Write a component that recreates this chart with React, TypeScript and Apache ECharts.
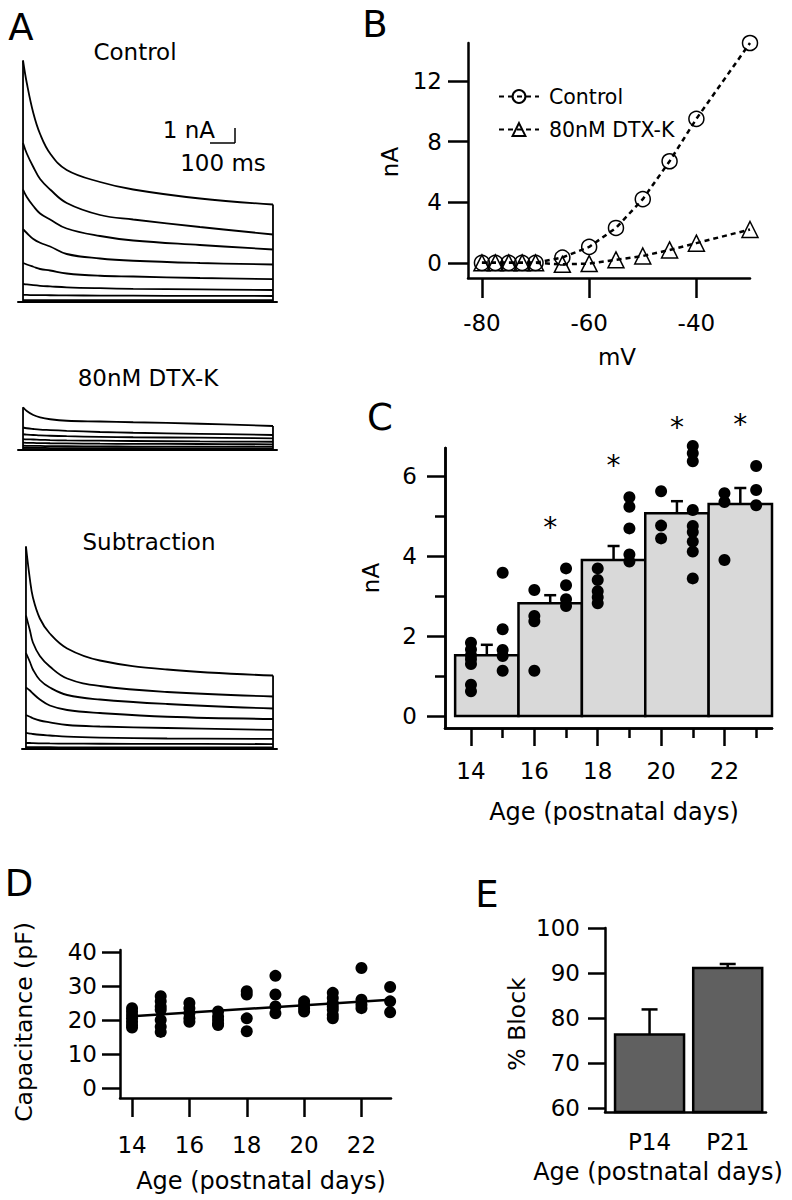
import React, { useEffect, useRef } from 'react';
import * as echarts from 'echarts';

const FONT = 'DejaVu Sans';

// ---------- Panel A: current traces (nA vs ms) ----------
const ctrlTimes = [0, 4, 19, 45, 72, 112, 178, 311, 443, 709, 1000];
const ctrlTrace1 = [0, 16.1, 14.6, 12.6, 11.2, 9.9, 8.8, 8.0, 7.5, 6.9, 6.5];
const ctrlTrace2 = [0, 10.6, 9.9, 9.0, 8.2, 7.5, 6.6, 5.8, 5.5, 5.0, 4.5];
const ctrlTrace3 = [0, 7.5, 7.0, 6.4, 5.9, 5.5, 4.9, 4.4, 4.1, 3.8, 3.5];
const ctrlTrace4 = [0, 4.85, 4.6, 4.2, 3.95, 3.7, 3.2, 2.9, 2.75, 2.6, 2.5];
const ctrlTrace5 = [0, 2.6, 2.5, 2.35, 2.2, 2.1, 1.9, 1.75, 1.7, 1.6, 1.53];
const ctrlTrace6 = [0, 1.2, 1.17, 1.12, 1.08, 1.04, 0.98, 0.92, 0.88, 0.84, 0.8];
const ctrlTrace7 = [0, 0.47, 0.47, 0.46, 0.46, 0.45, 0.44, 0.43, 0.42, 0.41, 0.4];
const ctrlTrace8 = [0, 0.13, 0.13, 0.13, 0.13, 0.13, 0.13, 0.13, 0.13, 0.13, 0.13];

const dtxTimes = [0, 4, 19, 45, 72, 112, 178, 311, 443, 709, 1000];
const dtxTrace1 = [0, 2.85, 2.6, 2.33, 2.17, 2.05, 1.95, 1.9, 1.85, 1.75, 1.6];
const dtxTrace2 = [0, 1.5, 1.45, 1.4, 1.36, 1.33, 1.28, 1.2, 1.15, 1.08, 1.0];
const dtxTrace3 = [0, 1.05, 1.02, 1.0, 0.97, 0.95, 0.92, 0.88, 0.85, 0.82, 0.78];
const dtxTrace4 = [0, 0.73, 0.71, 0.7, 0.68, 0.66, 0.64, 0.62, 0.6, 0.57, 0.55];
const dtxTrace5 = [0, 0.49, 0.48, 0.47, 0.46, 0.45, 0.44, 0.42, 0.41, 0.4, 0.38];
const dtxTrace6 = [0, 0.29, 0.28, 0.28, 0.27, 0.26, 0.25, 0.24, 0.23, 0.23, 0.22];
const dtxTrace7 = [0, 0.15, 0.15, 0.14, 0.14, 0.13, 0.13, 0.12, 0.12, 0.11, 0.11];
const dtxTrace8 = [0, 0.05, 0.05, 0.05, 0.05, 0.05, 0.05, 0.05, 0.05, 0.05, 0.05];

const subTimes = [0, 4, 20, 32, 60, 100, 170, 302, 573, 1000];
const subTrace1 = [0, 13.5, 11.3, 10.1, 8.7, 7.7, 6.7, 5.9, 5.3, 4.9];
const subTrace2 = [0, 8.9, 7.9, 7.1, 6.2, 5.5, 4.7, 4.2, 3.8, 3.5];
const subTrace3 = [0, 6.4, 5.8, 5.3, 4.6, 4.1, 3.6, 3.3, 3.0, 2.7];
const subTrace4 = [0, 4.1, 3.9, 3.7, 3.3, 2.9, 2.6, 2.4, 2.15, 2.0];
const subTrace5 = [0, 2.27, 2.15, 2.05, 1.9, 1.78, 1.6, 1.5, 1.4, 1.27];
const subTrace6 = [0, 1.07, 1.03, 1.0, 0.95, 0.9, 0.82, 0.76, 0.7, 0.67];
const subTrace7 = [0, 0.4, 0.4, 0.39, 0.38, 0.37, 0.36, 0.35, 0.34, 0.33];
const subTrace8 = [0, 0.13, 0.13, 0.13, 0.12, 0.12, 0.11, 0.11, 0.1, 0.1];

// ---------- Panel B: I-V ----------
const bVoltages = [-80, -77.5, -75, -72.5, -70, -65, -60, -55, -50, -45, -40, -30];
const bControl = [0, 0, 0, 0, 0, 0.35, 1.05, 2.3, 4.2, 6.7, 9.5, 14.5];
const bDtx = [0, 0, 0, 0, 0, -0.1, -0.05, 0.2, 0.45, 0.85, 1.3, 2.2];
const bXTicks = [-80, -60, -40];
const bYTicks = [0, 4, 8, 12];

// ---------- Panel C: current vs age ----------
const cBinCenters = [14.5, 16.5, 18.5, 20.5, 22.5];
const cBinWidth = 2;
const cMeans = [1.52, 2.82, 3.9, 5.07, 5.3];
const cSem = [0.26, 0.2, 0.35, 0.3, 0.4];
const cDays = [14, 15, 16, 17, 18, 19, 20, 21, 22, 23];
const cPoints = [
  [1.83, 1.66, 1.52, 1.42, 1.3, 0.78, 0.62],
  [3.58, 2.17, 1.65, 1.5, 1.13],
  [3.15, 2.5, 2.37, 1.13],
  [3.69, 3.27, 2.92, 2.75],
  [3.69, 3.4, 3.12, 2.97, 2.82],
  [5.47, 5.23, 4.69, 4.04, 3.86],
  [5.62, 4.76, 4.44],
  [6.75, 6.57, 6.37, 5.15, 4.75, 4.6, 4.36, 4.11, 3.44],
  [5.57, 5.35, 3.9],
  [6.25, 5.65, 5.27],
];
const cStarBins = [16.5, 18.5, 20.5, 22.5];
const cStarLevels = [4.9, 6.45, 7.4, 7.47];
const cXMajor = [14, 16, 18, 20, 22];
const cXMinor = [15, 17, 19, 21, 23];
const cYMajor = [0, 2, 4, 6];
const cYMinor = [1, 3, 5];

// ---------- Panel D: capacitance ----------
const dDays = [14, 15, 16, 17, 18, 19, 20, 21, 22, 23];
const dPoints = [
  [23.5, 22.5, 21.5, 20.5, 19.5, 18.5, 17.8],
  [27, 25.5, 24, 23, 20, 18, 16.5],
  [25, 23.5, 22, 20.5, 19.5],
  [22.5, 21, 20, 19, 18.5],
  [28.5, 27.5, 20.5, 16.7],
  [33, 27.5, 24, 22],
  [25.5, 24.5, 23.5, 22.5],
  [28, 26.5, 25, 24, 23, 21.5, 20.5],
  [35.3, 26, 24.5, 23.5],
  [29.7, 25.5, 22.3],
];
const dFitDays = [14, 23];
const dFitValues = [21.1, 26.0];
const dXTicks = [14, 16, 18, 20, 22];
const dYTicks = [0, 10, 20, 30, 40];

// ---------- Panel E: % block ----------
const eCats = ['P14', 'P21'];
const eMeans = [76.3, 91.1];
const eErr = [5.6, 0.9];
const eYTicks = [60, 70, 80, 90, 100];

const BLACK = '#000';
const axisLineStyle = { color: BLACK, width: 2.5 };
const tickText = (size = 23) => ({ color: BLACK, fontSize: size, fontFamily: FONT });

function pairs(xs: number[], ys: number[]) {
  return xs.map((x, i) => [x, ys[i]]);
}

// Each trace: vertical step-on edge, smooth decay, vertical step-off edge.
function traceSeries(times: number[], traces: number[][], axisIndex: number) {
  const base = { type: 'line', xAxisIndex: axisIndex, yAxisIndex: axisIndex, symbol: 'none', silent: true };
  const ls = { color: BLACK, width: 1.8 };
  const out: any[] = traces.map((tr) => ({
    ...base,
    data: pairs(times, tr).slice(1),
    smooth: 0.4,
    lineStyle: ls,
  }));
  const tOn = times[1];
  const tOff = times[times.length - 1];
  const first = traces[0];
  out.push({ ...base, data: [[tOn, first[0]], [tOn, first[1]]], lineStyle: ls });
  out.push({ ...base, data: [[tOff, first[0]], [tOff, first[first.length - 1]]], lineStyle: ls });
  return out;
}

function hiddenAxis(gridIndex: number, min: number, max: number, showLine: boolean) {
  return {
    type: 'value',
    gridIndex,
    min,
    max,
    axisLine: { show: showLine, onZero: false, lineStyle: { color: BLACK, width: 2 } },
    axisTick: { show: false },
    axisLabel: { show: false },
    splitLine: { show: false },
  };
}

function tickAxis(
  gridIndex: number,
  position: string,
  min: number,
  max: number,
  ticks: number[],
  tickLen: number,
  labelMargin: number | null,
  fontSize = 23
) {
  return {
    type: 'value',
    gridIndex,
    position,
    min,
    max,
    axisLine: { show: true, onZero: false, lineStyle: axisLineStyle },
    axisTick: { show: true, customValues: ticks, length: tickLen, lineStyle: axisLineStyle },
    axisLabel:
      labelMargin === null
        ? { show: false }
        : { show: true, customValues: ticks, margin: labelMargin, ...tickText(fontSize) },
    splitLine: { show: false },
  };
}

function txt(text: string, x: number, y: number, size: number, opts: any = {}) {
  return {
    type: 'text',
    x,
    y,
    rotation: opts.rotation || 0,
    style: {
      text,
      fill: BLACK,
      fontSize: size,
      fontFamily: FONT,
      align: opts.align || 'center',
      verticalAlign: 'middle',
    },
  };
}

function errorBarRenderer(capHalf: number) {
  return (params: any, api: any) => {
    const x = api.value(0);
    const m = api.value(1);
    const e = api.value(2);
    const p0 = api.coord([x, m]);
    const p1 = api.coord([x, m + e]);
    const style = { stroke: BLACK, lineWidth: 2.5 };
    return {
      type: 'group',
      children: [
        { type: 'line', shape: { x1: p0[0], y1: p0[1], x2: p1[0], y2: p1[1] }, style },
        { type: 'line', shape: { x1: p1[0] - capHalf, y1: p1[1], x2: p1[0] + capHalf, y2: p1[1] }, style },
      ],
    };
  };
}

export default function App() {
  const ref = useRef<HTMLDivElement>(null);

  useEffect(() => {
    if (!ref.current) return;
    const chart = echarts.init(ref.current, undefined, { renderer: 'svg' });

    const cScatter: number[][] = [];
    cDays.forEach((d, i) => cPoints[i].forEach((v) => cScatter.push([d, v])));
    const dScatter: number[][] = [];
    dDays.forEach((d, i) => dPoints[i].forEach((v) => dScatter.push([d, v])));

    const option: any = {
      animation: false,
      backgroundColor: '#fff',
      textStyle: { fontFamily: FONT },
      grid: [
        { left: 18, top: 59, width: 259, height: 243, outerBoundsMode: 'none' },
        { left: 18, top: 405, width: 259, height: 45, outerBoundsMode: 'none' },
        { left: 22, top: 543.5, width: 255, height: 205.5, outerBoundsMode: 'none' },
        { left: 468, top: 43, width: 282, height: 235, outerBoundsMode: 'none' },
        { left: 445, top: 448, width: 327, height: 280, outerBoundsMode: 'none' },
        { left: 120, top: 950, width: 271, height: 148, outerBoundsMode: 'none' },
        { left: 605, top: 928, width: 161, height: 184, outerBoundsMode: 'none' },
      ],
      xAxis: [
        { ...hiddenAxis(0, -16, 1016, true), position: 'bottom' },
        { ...hiddenAxis(1, -16, 1016, true), position: 'bottom' },
        { ...hiddenAxis(2, -12, 1016, true), position: 'bottom' },
        tickAxis(3, 'bottom', -82.6, -30, bXTicks, 20, 33),
        tickAxis(4, 'bottom', 13.18, 23.5, cXMajor, 18, 31),
        tickAxis(4, 'bottom', 13.18, 23.5, cXMinor, 10, null),
        tickAxis(5, 'bottom', 13.58, 23.03, dXTicks, 19, 35),
        {
          type: 'value',
          gridIndex: 6,
          position: 'bottom',
          min: -0.57,
          max: 1.49,
          axisLine: { show: true, onZero: false, lineStyle: axisLineStyle },
          axisTick: { show: false },
          axisLabel: {
            show: true,
            customValues: [0, 1],
            margin: 18,
            formatter: (v: number) => eCats[Math.round(v)],
            ...tickText(23),
          },
          splitLine: { show: false },
        },
      ],
      yAxis: [
        { ...hiddenAxis(0, 0, 16.2, false), show: false },
        { ...hiddenAxis(1, 0, 3, false), show: false },
        { ...hiddenAxis(2, 0, 13.7, false), show: false },
        tickAxis(3, 'left', -1, 14.5, bYTicks, 20, 26),
        tickAxis(4, 'left', -0.3, 6.7, cYMajor, 18, 28),
        tickAxis(4, 'left', -0.3, 6.7, cYMinor, 10, null),
        tickAxis(5, 'left', -2.94, 40.6, dYTicks, 18, 23),
        tickAxis(6, 'left', 59.1, 100, eYTicks, 17, 25),
      ],
      legend: {
        data: ['Control', '80nM DTX-K'],
        orient: 'vertical',
        left: 493,
        top: 81,
        itemWidth: 40,
        itemHeight: 16,
        itemGap: 12,
        textStyle: { color: BLACK, fontSize: 20.5, fontFamily: FONT, padding: [0, 0, 0, 5] },
        selectedMode: false,
      },
      series: [
        ...traceSeries(ctrlTimes, [ctrlTrace1, ctrlTrace2, ctrlTrace3, ctrlTrace4, ctrlTrace5, ctrlTrace6, ctrlTrace7, ctrlTrace8], 0),
        ...traceSeries(dtxTimes, [dtxTrace1, dtxTrace2, dtxTrace3, dtxTrace4, dtxTrace5, dtxTrace6, dtxTrace7, dtxTrace8], 1),
        ...traceSeries(subTimes, [subTrace1, subTrace2, subTrace3, subTrace4, subTrace5, subTrace6, subTrace7, subTrace8], 2),
        {
          name: 'Control',
          type: 'line',
          xAxisIndex: 3,
          yAxisIndex: 3,
          data: pairs(bVoltages, bControl),
          symbol: 'circle',
          symbolSize: 15,
          clip: false,
          lineStyle: { color: BLACK, width: 2.5, type: [5, 4] },
          itemStyle: { color: 'rgba(255,255,255,0)', borderColor: BLACK, borderWidth: 1.5, opacity: 1 },
        },
        {
          name: '80nM DTX-K',
          type: 'line',
          xAxisIndex: 3,
          yAxisIndex: 3,
          data: pairs(bVoltages, bDtx),
          symbol: 'triangle',
          symbolSize: 16,
          clip: false,
          lineStyle: { color: BLACK, width: 2.5, type: [5, 4] },
          itemStyle: { color: 'rgba(255,255,255,0)', borderColor: BLACK, borderWidth: 1.5, opacity: 1 },
        },
        {
          type: 'custom',
          xAxisIndex: 4,
          yAxisIndex: 4,
          data: cBinCenters.map((c, i) => [c, cMeans[i], cBinWidth]),
          encode: { x: 0, y: 1 },
          renderItem: (params: any, api: any) => {
            const c = api.value(0);
            const m = api.value(1);
            const w = api.value(2);
            const p0 = api.coord([c - w / 2, m]);
            const p1 = api.coord([c + w / 2, 0]);
            return {
              type: 'rect',
              shape: { x: p0[0], y: p0[1], width: p1[0] - p0[0], height: p1[1] - p0[1] },
              style: { fill: '#d9d9d9', stroke: BLACK, lineWidth: 2.5 },
            };
          },
        },
        {
          type: 'custom',
          xAxisIndex: 4,
          yAxisIndex: 4,
          data: cBinCenters.map((c, i) => [c, cMeans[i], cSem[i]]),
          encode: { x: 0, y: 1 },
          renderItem: errorBarRenderer(6),
        },
        {
          type: 'scatter',
          xAxisIndex: 4,
          yAxisIndex: 4,
          data: cScatter,
          symbolSize: 12,
          clip: false,
          itemStyle: { color: BLACK, opacity: 1 },
        },
        {
          type: 'scatter',
          xAxisIndex: 4,
          yAxisIndex: 4,
          data: pairs(cStarBins, cStarLevels),
          symbolSize: 1,
          clip: false,
          itemStyle: { color: 'rgba(0,0,0,0)', opacity: 1 },
          label: {
            show: true,
            position: 'inside',
            formatter: '*',
            color: BLACK,
            opacity: 1,
            fontSize: 28,
            fontFamily: FONT,
            offset: [0, 7],
          },
        },
        {
          type: 'scatter',
          xAxisIndex: 6,
          yAxisIndex: 6,
          data: dScatter,
          symbolSize: 12,
          clip: false,
          itemStyle: { color: BLACK, opacity: 1 },
        },
        {
          type: 'line',
          xAxisIndex: 6,
          yAxisIndex: 6,
          data: pairs(dFitDays, dFitValues),
          symbol: 'none',
          lineStyle: { color: BLACK, width: 2.5 },
        },
        {
          type: 'custom',
          xAxisIndex: 7,
          yAxisIndex: 7,
          data: eMeans.map((m, i) => [i, m]),
          encode: { x: 0, y: 1 },
          renderItem: (params: any, api: any) => {
            const i = api.value(0);
            const m = api.value(1);
            const top = api.coord([i, m]);
            const base = api.coord([i, 59.1]);
            const half = 34.5;
            return {
              type: 'rect',
              shape: { x: top[0] - half, y: top[1], width: half * 2, height: base[1] - top[1] },
              style: { fill: '#606060', stroke: BLACK, lineWidth: 2.5 },
            };
          },
        },
        {
          type: 'custom',
          xAxisIndex: 7,
          yAxisIndex: 7,
          data: eMeans.map((m, i) => [i, m, eErr[i]]),
          encode: { x: 0, y: 1 },
          renderItem: errorBarRenderer(8),
        },
      ],
      graphic: [
        txt('A', 21, 27, 37),
        txt('Control', 135, 52, 23),
        txt('80nM DTX-K', 148, 378, 23),
        txt('Subtraction', 149, 542, 23),
        txt('1 nA', 215, 130, 23, { align: 'right' }),
        txt('100 ms', 223, 163, 23),
        { type: 'line', shape: { x1: 210, y1: 143, x2: 235, y2: 143 }, style: { stroke: BLACK, lineWidth: 1.5 } },
        { type: 'line', shape: { x1: 235, y1: 128, x2: 235, y2: 143 }, style: { stroke: BLACK, lineWidth: 1.5 } },
        txt('B', 375, 24, 37),
        txt('nA', 390, 162, 23, { rotation: Math.PI / 2 }),
        txt('mV', 617, 357, 23),
        txt('C', 380, 417, 37),
        txt('nA', 371, 578, 23, { rotation: Math.PI / 2 }),
        txt('Age (postnatal days)', 614, 812, 24),
        txt('D', 19, 883, 37),
        txt('Capacitance (pF)', 24, 1022, 23.5, { rotation: Math.PI / 2 }),
        txt('Age (postnatal days)', 261, 1181, 24),
        txt('E', 487, 894, 37),
        txt('% Block', 517, 1024, 23.5, { rotation: Math.PI / 2 }),
        txt('Age (postnatal days)', 658, 1172, 24),
      ],
    };

    chart.setOption(option);
    return () => chart.dispose();
  }, []);

  return (
    <div
      ref={ref}
      style={{ position: 'absolute', left: 0, top: 0, width: 792, height: 1200, background: '#fff' }}
    />
  );
}
